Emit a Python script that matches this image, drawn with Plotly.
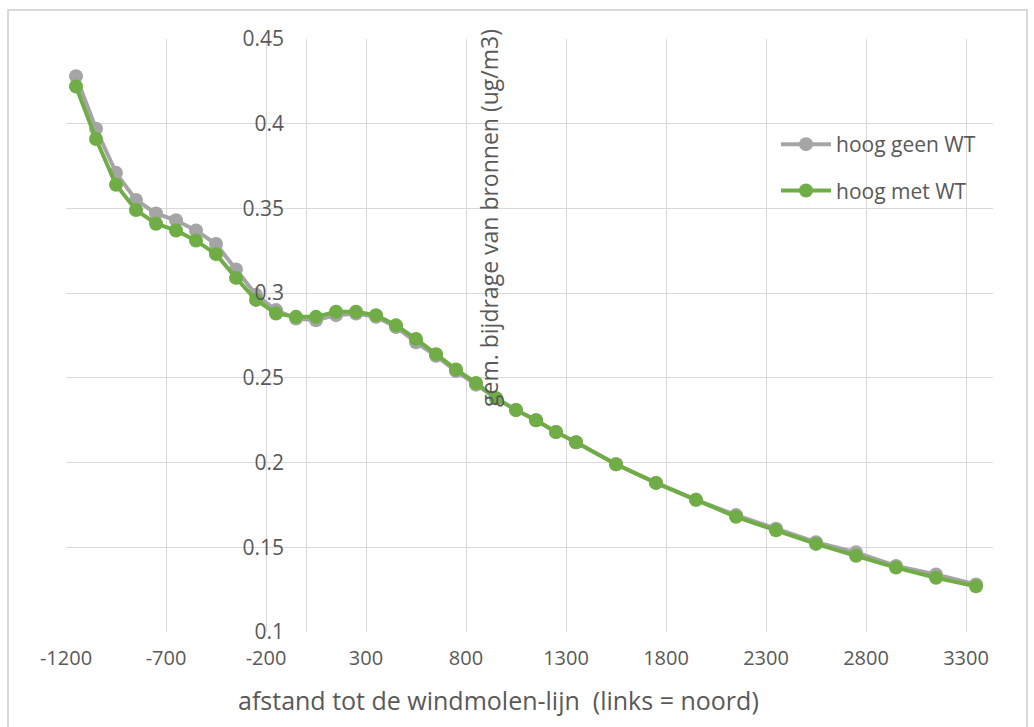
import plotly.graph_objects as go

# Afstand tot de windmolen-lijn (m) en gemiddelde bijdrage (ug/m3)
afstand = [-1150, -1050, -950, -850, -750, -650, -550, -450, -350, -250,
           -150, -50, 50, 150, 250, 350, 450, 550, 650, 750,
           850, 950, 1050, 1150, 1250, 1350, 1550, 1750, 1950, 2150,
           2350, 2550, 2750, 2950, 3150, 3350]

hoog_geen_wt = [0.428, 0.397, 0.371, 0.355, 0.347, 0.343, 0.337, 0.329, 0.314, 0.299,
                0.290, 0.285, 0.284, 0.287, 0.288, 0.286, 0.280, 0.271, 0.263, 0.254,
                0.246, 0.238, 0.231, 0.225, 0.218, 0.212, 0.199, 0.188, 0.178, 0.169,
                0.161, 0.153, 0.147, 0.139, 0.134, 0.128]

hoog_met_wt = [0.422, 0.391, 0.364, 0.349, 0.341, 0.337, 0.331, 0.323, 0.309, 0.296,
               0.288, 0.286, 0.286, 0.289, 0.289, 0.287, 0.281, 0.273, 0.264, 0.255,
               0.247, 0.238, 0.231, 0.225, 0.218, 0.212, 0.199, 0.188, 0.178, 0.168,
               0.160, 0.152, 0.145, 0.138, 0.132, 0.127]

x_ticks = [-1200, -700, -200, 300, 800, 1300, 1800, 2300, 2800, 3300]
x_tick_labels = ["-1200", "-700", "-200", "300", "800", "1300", "1800", "2300", "2800", "3300"]
y_ticks = [0.1, 0.15, 0.2, 0.25, 0.3, 0.35, 0.4, 0.45]
y_tick_labels = ["0.1", "0.15", "0.2", "0.25", "0.3", "0.35", "0.4", "0.45"]

GRAY = "#A5A5A5"
GREEN = "#70AD47"
GRID = "#D9D9D9"
TEXT = "#595959"
FONT = "Open Sans"

W, H = 1034, 727
ML, MR, MT, MB = 66, 41, 39, 95
PW, PH = W - ML - MR, H - MT - MB

X_MIN, X_MAX = -1200, 3435


def px_to_paper_x(px):
    return (px - ML) / PW


def px_to_paper_y(py):
    return (H - MB - py) / PH


fig = go.Figure()
fig.add_trace(go.Scatter(
    x=afstand, y=hoog_geen_wt, name="hoog geen WT", mode="lines+markers",
    line=dict(color=GRAY, width=4), marker=dict(color=GRAY, size=14),
    legendgroup="a"))
fig.add_trace(go.Scatter(
    x=afstand, y=hoog_met_wt, name="hoog met WT", mode="lines+markers",
    line=dict(color=GREEN, width=4), marker=dict(color=GREEN, size=14),
    legendgroup="b"))

# y-as kruist de x-as bij afstand 0
y_axis_pos = (0 - X_MIN) / (X_MAX - X_MIN)

fig.update_layout(
    width=W, height=H,
    margin=dict(l=ML, r=MR, t=MT, b=MB),
    paper_bgcolor="white", plot_bgcolor="white",
    font=dict(family=FONT, color=TEXT),
    xaxis=dict(
        range=[X_MIN, X_MAX], tickvals=x_ticks, ticktext=x_tick_labels,
        showgrid=True, gridcolor=GRID, gridwidth=1,
        zeroline=True, zerolinecolor=GRID, zerolinewidth=1,
        showline=False, ticks="", ticklabelstandoff=12,
        tickfont=dict(size=20, color=TEXT, family=FONT),
    ),
    yaxis=dict(
        range=[0.1, 0.45], tickvals=y_ticks, ticktext=y_tick_labels,
        anchor="free", position=y_axis_pos, side="left",
        showgrid=True, gridcolor=GRID, gridwidth=1,
        zeroline=False, showline=False, ticks="", ticklabelstandoff=22,
        tickfont=dict(size=21, color=TEXT, family=FONT),
    ),
    legend=dict(
        x=px_to_paper_x(776), y=px_to_paper_y(124), xanchor="left", yanchor="top",
        bgcolor="rgba(0,0,0,0)", font=dict(size=21, color=TEXT, family=FONT),
        tracegroupgap=16, itemwidth=50,
    ),
    showlegend=True,
)

fig.add_annotation(
    text="afstand tot de windmolen-lijn  (links = noord)",
    xref="paper", yref="paper", x=px_to_paper_x(498), y=px_to_paper_y(700),
    xanchor="center", yanchor="middle", showarrow=False,
    font=dict(size=25, color=TEXT, family=FONT),
)
fig.add_annotation(
    text="gem. bijdrage van bronnen (ug/m3)",
    xref="paper", yref="paper", x=px_to_paper_x(489), y=px_to_paper_y(218),
    xanchor="center", yanchor="middle", textangle=-90, showarrow=False,
    font=dict(size=23, color=TEXT, family=FONT),
)

# kader rond de grafiek
fig.add_shape(
    type="rect", xref="paper", yref="paper",
    x0=px_to_paper_x(8), x1=px_to_paper_x(1027),
    y0=px_to_paper_y(745), y1=px_to_paper_y(10),
    line=dict(color=GRID, width=2), layer="below",
)

fig.write_html("out.html")
